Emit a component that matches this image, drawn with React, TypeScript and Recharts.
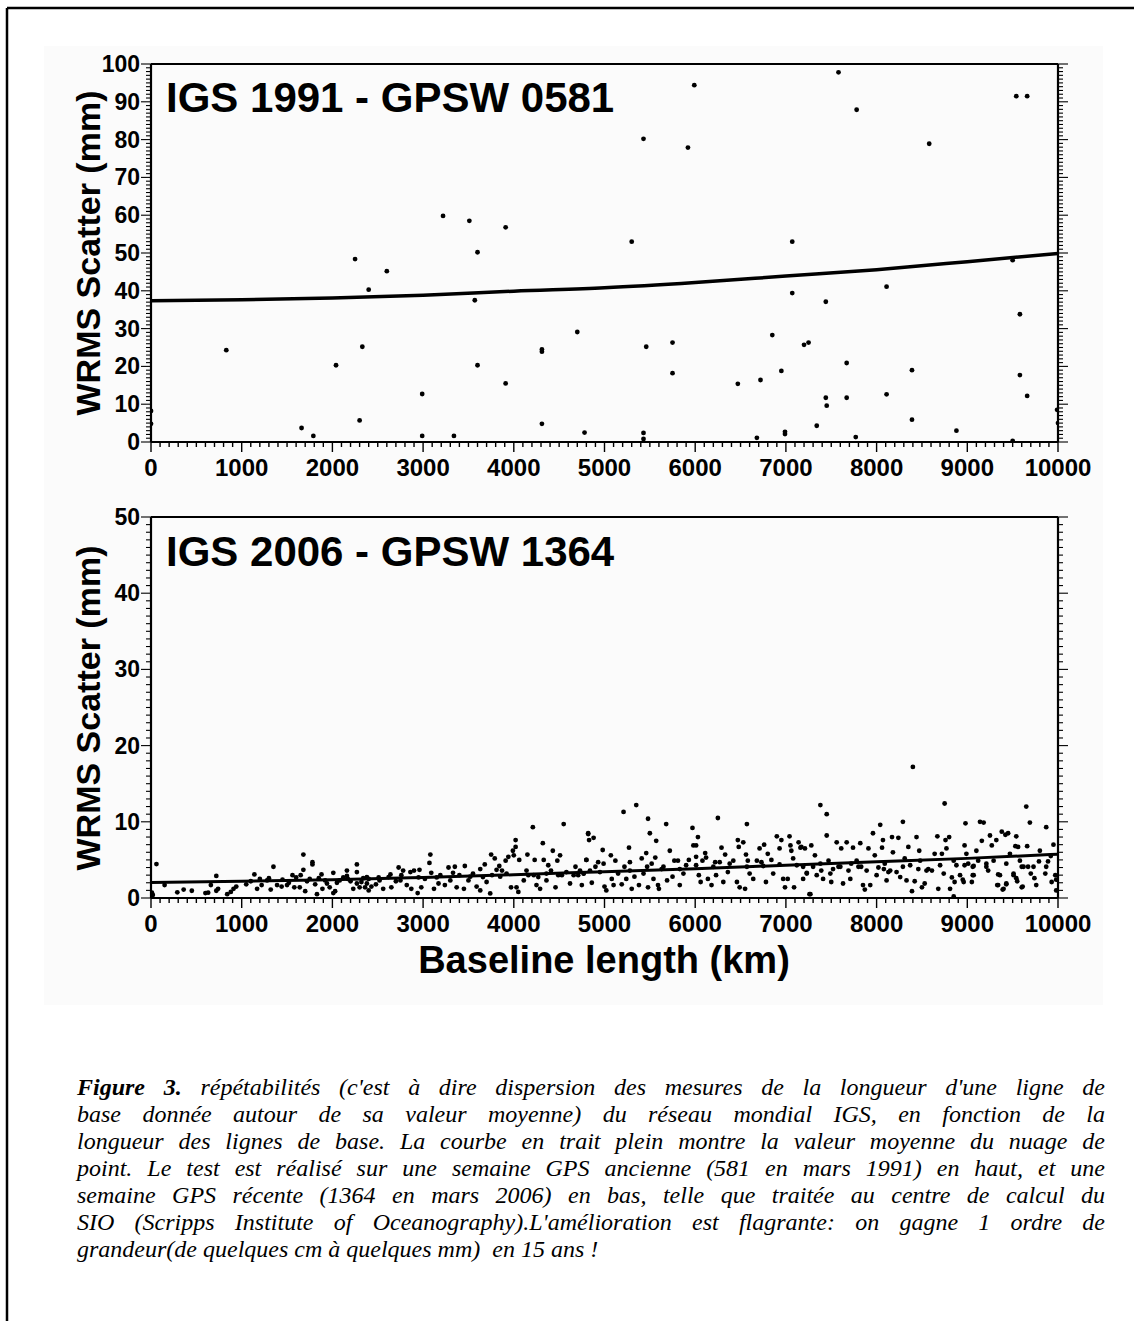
import React from 'react';
import { ScatterChart, Scatter, XAxis, YAxis } from 'recharts';

const SANS = '"Liberation Sans", Arial, Helvetica, sans-serif';
const SERIF = '"Liberation Serif", "Times New Roman", serif';

// ---------- tick labels ----------
const xMajorTicks = [0, 1000, 2000, 3000, 4000, 5000, 6000, 7000, 8000, 9000, 10000];
const topYMajorTicks = [0, 10, 20, 30, 40, 50, 60, 70, 80, 90, 100];
const bottomYMajorTicks = [0, 10, 20, 30, 40, 50];
const xMinorStep = 100;
const yMinorStep = 1;

// ---------- titles ----------
const topTitle = 'IGS 1991 - GPSW 0581';
const bottomTitle = 'IGS 2006 - GPSW 1364';
const yAxisTitle = 'WRMS Scatter (mm)';
const xAxisTitle = 'Baseline length (km)';

// ---------- data: IGS 1991 (baseline km, WRMS mm) ----------
const points1991: [number, number][] = [
  [0, 8.2], [0, 4.8], [830, 24.3], [1660, 3.7], [1790, 1.6], [2040, 20.3], [2250, 48.4], [2300, 5.7],
  [2330, 25.2], [2400, 40.3], [2600, 45.2], [2990, 12.7], [2990, 1.6], [3220, 59.8], [3340, 1.6],
  [3510, 58.5], [3570, 37.5], [3600, 50.2], [3600, 20.3], [3910, 56.8], [3910, 15.5], [4310, 24.5],
  [4310, 23.9], [4310, 4.8], [4700, 29.1], [4780, 2.5], [5300, 53.0], [5430, 80.2], [5430, 2.4],
  [5430, 0.8], [5460, 25.2], [5750, 26.3], [5750, 18.2], [5920, 77.9], [5990, 94.4], [6470, 15.4],
  [6680, 1.1], [6720, 16.4], [6850, 28.3], [6950, 18.8], [6990, 2.7], [6990, 2.1], [7070, 53.0],
  [7070, 39.4], [7200, 25.7], [7250, 26.3], [7340, 4.3], [7440, 37.1], [7440, 11.7], [7450, 9.6],
  [7580, 97.8], [7670, 20.9], [7670, 11.7], [7770, 1.3], [7780, 87.9], [8110, 41.1], [8110, 12.6],
  [8390, 19.0], [8390, 5.9], [8580, 78.9], [8880, 3.0], [9500, 48.1], [9500, 0.3], [9540, 91.5],
  [9580, 33.8], [9580, 17.7], [9660, 91.5], [9660, 12.2], [9990, 8.5], [10000, 5.0],
];
const fit1991: [number, number][] = [
  [0, 37.4], [1000, 37.6], [2000, 38.1], [3000, 38.8], [4000, 39.9], [5000, 40.8],
  [6000, 42.2], [7000, 43.9], [8000, 45.6], [9000, 47.7], [10000, 49.9],
];

// ---------- data: IGS 2006 (baseline km, WRMS mm) ----------
const points2006a: [number, number][] = [
  [20, 0.4], [10, 0.7], [60, 4.45], [150, 1.7], [290, 0.75], [360, 1.1], [450, 0.95], [600, 0.65],
  [630, 0.7], [660, 1.7], [720, 2.9], [720, 0.95], [740, 1.2], [840, 0.5], [880, 0.8], [910, 1.2],
  [940, 1.5], [1050, 1.8], [1140, 3.1], [1170, 1.2], [1200, 2.5], [1220, 1.7], [1280, 2.3], [1320, 1.1],
  [1350, 4.1], [1390, 1.7], [1440, 1.5], [1500, 1.7], [1560, 3.0], [1580, 1.4], [1640, 1.4], [1650, 3.0],
  [1680, 5.7], [1680, 3.7], [1700, 0.9], [1750, 2.5], [1780, 4.7], [1780, 4.4], [1810, 1.8], [1830, 0.5],
  [1880, 3.1], [1890, 1.2], [1940, 1.9], [1970, 1.4], [2010, 3.3], [2030, 0.9], [2010, 0.65], [2160, 2.9],
  [2160, 3.6], [2270, 4.4], [2270, 3.4], [2270, 1.9], [2230, 1.2], [2300, 1.4], [2380, 1.9], [2400, 1.0],
  [2080, 2.3], [2170, 2.5], [1100, 2.2], [1300, 2.6], [1450, 2.4], [1520, 2.0], [1600, 2.7], [1720, 2.2],
  [1850, 2.6], [1920, 2.3], [2050, 2.0], [2120, 2.7], [2200, 2.2], [2340, 2.6],
];
const points2006b: [number, number][] = [
  [2320, 2.1], [2360, 1.4], [2400, 2.5], [2430, 1.5], [2480, 1.8], [2520, 2.3], [2560, 1.2], [2620, 2.75],
  [2650, 1.4], [2700, 2.2], [2730, 4.0], [2760, 3.0], [2780, 3.6], [2820, 1.7], [2860, 3.4], [2870, 1.2],
  [2900, 3.6], [2940, 0.65], [2960, 3.7], [2980, 1.4], [3020, 2.5], [3070, 4.6], [3080, 5.7], [3090, 3.3],
  [3120, 1.2], [3170, 1.9], [3190, 3.0], [3240, 1.7], [3280, 4.0], [3300, 2.3], [3350, 4.1], [3370, 1.4],
  [3400, 3.0], [3450, 1.2], [3460, 4.2], [3500, 2.3], [3550, 3.2], [3590, 1.5], [3630, 3.8], [3630, 1.0],
  [3680, 4.4], [3700, 2.1], [3740, 0.6], [3750, 5.7], [3760, 3.0], [3790, 5.2], [3810, 3.7], [3840, 4.2],
  [3870, 3.6], [3910, 4.9], [3940, 5.4], [3970, 1.4], [3990, 6.2], [4000, 5.6], [4020, 7.6], [4020, 6.7],
  [4030, 1.4], [4050, 0.8], [4060, 5.0], [4110, 2.3], [4150, 5.7], [4160, 3.0], [4210, 9.3], [4220, 3.0],
  [4230, 5.0], [4250, 1.7], [4290, 1.2], [4320, 7.2], [4330, 5.0], [4360, 2.3], [4380, 4.3], [4410, 3.6],
  [4430, 6.2], [4460, 1.4], [4480, 4.9], [4510, 5.6], [4530, 3.0], [4550, 9.7], [4580, 3.4], [4620, 1.9],
  [4680, 4.1], [4710, 3.0], [4750, 1.7], [4800, 5.0], [4820, 8.4], [4840, 3.6],
  [2380, 2.75], [2510, 2.7], [2640, 3.1], [2750, 2.3], [2950, 2.7], [3150, 2.7], [3330, 3.3], [3520, 2.8],
  [3660, 2.75], [3850, 2.8], [3920, 3.2], [4140, 3.6], [4270, 2.75], [4360, 3.2], [4490, 3.0], [4660, 3.0],
  [4770, 3.2],
];
const points2006c: [number, number][] = [
  [4730, 3.6], [4770, 3.2], [4800, 5.0], [4820, 8.5], [4830, 7.6], [4880, 7.9], [4860, 2.0], [4900, 4.1],
  [4930, 4.7], [4980, 6.3], [4990, 4.5], [5000, 1.5], [5020, 1.0], [5070, 5.6], [5080, 2.5], [5100, 1.7],
  [5120, 4.9], [5150, 3.2], [5190, 1.8], [5210, 11.3], [5220, 4.1], [5240, 2.5], [5270, 6.6], [5280, 4.7],
  [5300, 1.2], [5330, 2.8], [5350, 12.2], [5380, 1.7], [5410, 5.2], [5430, 3.2], [5460, 5.9], [5480, 10.4],
  [5480, 1.4], [5500, 8.5], [5520, 4.5], [5540, 2.5], [5560, 5.3], [5570, 7.5], [5590, 1.7], [5600, 1.2],
  [5630, 3.8], [5680, 9.7], [5690, 2.3], [5720, 6.2], [5750, 2.8], [5770, 4.9], [5810, 4.9], [5830, 1.7],
  [5870, 3.2], [5900, 4.3], [5930, 5.0], [5970, 9.2], [5980, 6.9], [6010, 6.9], [6010, 5.4], [6030, 8.0],
  [6040, 3.0], [6060, 2.1], [6080, 4.9], [6110, 5.9], [6120, 5.3], [6140, 2.5], [6180, 1.7], [6220, 4.7],
  [6230, 3.0], [6250, 10.5], [6270, 4.7], [6290, 6.6], [6310, 2.1], [6330, 5.7], [6360, 3.4], [6420, 4.9],
  [6460, 2.1], [6470, 7.6], [6480, 6.7], [6490, 1.4], [6530, 7.3], [6550, 1.2], [6560, 5.7], [6570, 9.7],
  [6580, 4.9], [6600, 3.2], [6640, 2.5], [6680, 4.9], [6710, 6.5], [6730, 4.7], [6760, 7.0], [6780, 2.1],
  [6800, 5.8], [6840, 5.0], [6860, 3.2], [6900, 8.1], [6930, 6.5], [6950, 7.6], [6970, 2.5], [6990, 1.4],
  [7020, 2.5], [7040, 8.1], [7050, 6.9], [7060, 6.2], [7080, 5.2], [7090, 1.4], [7140, 7.3], [7160, 6.6],
  [7190, 2.5], [7230, 3.3], [7260, 0.5],
  [4950, 3.4], [5280, 3.6], [5470, 4.1], [5650, 4.1], [5830, 3.8], [6010, 4.3], [6200, 4.1], [6380, 4.5],
  [6570, 4.1], [6750, 4.2], [6930, 4.4], [7120, 4.3],
];
const points2006d: [number, number][] = [
  [7170, 6.7], [7210, 6.5], [7230, 3.2], [7270, 0.5], [7280, 6.9], [7300, 4.1], [7320, 5.6], [7340, 3.0],
  [7380, 12.2], [7390, 3.6], [7410, 2.5], [7450, 11.0], [7450, 8.2], [7470, 4.9], [7490, 3.2], [7500, 2.1],
  [7560, 7.3], [7580, 4.1], [7610, 6.5], [7630, 1.9], [7670, 7.3], [7690, 3.6], [7710, 2.5], [7740, 6.6],
  [7780, 4.9], [7820, 7.2], [7830, 4.1], [7850, 1.7], [7870, 1.1], [7910, 6.5], [7930, 1.7], [7960, 8.5],
  [7980, 5.6], [8000, 3.0], [8040, 9.6], [8060, 6.6], [8070, 7.6], [8090, 4.5], [8110, 2.3], [8130, 3.4],
  [8170, 8.0], [8180, 6.0], [8220, 3.4], [8240, 7.9], [8260, 2.75], [8290, 10.0], [8310, 5.2], [8330, 2.3],
  [8350, 6.7], [8390, 0.9], [8400, 17.2], [8420, 2.2], [8440, 8.0], [8460, 3.8], [8470, 6.2], [8500, 1.4],
  [8530, 1.9], [8570, 3.8], [8610, 3.6], [8640, 5.8], [8670, 8.1], [8680, 1.2], [8720, 5.8], [8740, 3.2],
  [8750, 12.4], [8760, 7.6], [8770, 6.5], [8800, 8.0], [8810, 1.2], [8830, 2.7], [8850, 0.2], [8860, 2.1],
  [8880, 4.3], [8920, 3.0], [8960, 2.1], [8970, 6.9], [8980, 9.8], [8990, 5.8], [9050, 2.1], [9060, 4.1],
  [9070, 3.0], [9100, 6.2], [9140, 10.0], [9160, 7.5], [9180, 9.9], [9210, 4.5], [9230, 3.6], [9250, 8.2],
  [9270, 6.9], [9320, 7.6], [9340, 1.7], [9360, 3.0], [9380, 8.7], [9400, 1.2], [9420, 8.3], [9430, 1.9],
  [9450, 8.5], [9470, 5.8], [9510, 3.0], [9530, 6.8], [9540, 8.1], [9550, 2.2], [9560, 6.7], [9600, 1.4],
  [9620, 4.1], [9650, 12.0], [9660, 6.8], [9690, 9.9], [9700, 3.2], [9730, 4.1],
  [7190, 4.1], [7380, 4.5], [7520, 3.8], [7600, 4.1], [7720, 4.5], [7800, 4.1], [7890, 3.6], [8020, 4.0],
  [8080, 3.8], [8150, 3.6], [8290, 4.1], [8370, 4.3], [8480, 4.9], [8550, 3.6], [8700, 4.3], [8850, 4.9],
  [9010, 4.5], [9120, 4.9], [9290, 4.9], [9430, 4.5], [9580, 4.9],
];
const points2006e: [number, number][] = [
  [8970, 4.3], [9070, 4.2], [9060, 3.0], [8950, 2.4], [9330, 1.7], [9390, 1.1], [9340, 3.1], [9210, 4.1],
  [9430, 1.8], [9510, 3.2], [9540, 2.6], [9600, 4.1], [9610, 1.5], [9670, 4.1], [9740, 2.6], [9760, 1.7],
  [9790, 4.8], [9860, 3.2], [9870, 4.1], [9890, 4.8], [9930, 2.1], [9970, 3.0], [9980, 1.0], [9980, 2.4],
  [9870, 9.3], [9950, 7.0], [9800, 6.2], [9920, 5.5],
];
const fit2006: [number, number][] = [
  [0, 2.05], [1000, 2.2], [2000, 2.4], [3000, 2.7], [4000, 3.05], [5000, 3.45],
  [6000, 3.85], [7000, 4.3], [8000, 4.75], [9000, 5.2], [10000, 5.75],
];

// ---------- caption ----------
const captionLead = 'Figure 3.';
const captionLines = [
  " répétabilités (c'est à dire dispersion des mesures de la longueur d'une ligne de",
  'base donnée autour de sa valeur moyenne) du réseau mondial IGS, en fonction de la',
  'longueur des lignes de base. La courbe en trait plein montre la valeur moyenne du nuage de',
  'point. Le test est réalisé sur une semaine GPS ancienne (581 en mars 1991) en haut, et une',
  'semaine GPS récente (1364 en mars 2006) en bas, telle que traitée au centre de calcul du',
  "SIO (Scripps Institute of Oceanography).L'amélioration est flagrante: on gagne 1 ordre de",
  'grandeur(de quelques cm à quelques mm)  en 15 ans !',
];

// ---------- helpers ----------
const toXY = (pts: [number, number][]) => pts.map(([x, y]) => ({ x, y }));
const tickList = (max: number, step: number) => {
  const out: number[] = [];
  for (let v = 0; v <= max + 1e-9; v += step) out.push(Math.round(v * 1000) / 1000);
  return out;
};
const xTicks = tickList(10000, xMinorStep);
const topYTicks = tickList(100, yMinorStep);
const bottomYTicks = tickList(50, yMinorStep);

const Dot = (props: any) => {
  const { cx, cy } = props;
  if (cx == null || cy == null) return <g />;
  return <circle cx={cx} cy={cy} r={2.4} fill="#000" />;
};
const NoShape = () => <g />;

const makeXTick = (majors: number[]) => (props: any) => {
  const { x, y, payload } = props;
  const v = payload.value;
  const major = majors.includes(v);
  return (
    <g>
      <line x1={x} x2={x} y1={y} y2={y + (major ? 10 : 5)} stroke="#000" strokeWidth={1.4} />
      {major && (
        <text x={x} y={y + 34} textAnchor="middle" fontFamily={SANS} fontWeight="bold" fontSize={24} fill="#000">
          {v}
        </text>
      )}
    </g>
  );
};
const makeLeftTick = (majors: number[]) => (props: any) => {
  const { x, y, payload } = props;
  const v = payload.value;
  const major = majors.includes(v);
  return (
    <g>
      <line x1={x - (major ? 10 : 5)} x2={x} y1={y} y2={y} stroke="#000" strokeWidth={1.1} />
      {major && (
        <text x={x - 11} y={y + 8} textAnchor="end" fontFamily={SANS} fontWeight="bold" fontSize={23} fill="#000">
          {v}
        </text>
      )}
    </g>
  );
};
const makeRightTick = (majors: number[]) => (props: any) => {
  const { x, y, payload } = props;
  const major = majors.includes(payload.value);
  return <line x1={x} x2={x + (major ? 10 : 5)} y1={y} y2={y} stroke="#000" strokeWidth={1.1} />;
};

const axisLine = { stroke: '#000', strokeWidth: 2.2 };

type PanelProps = {
  top: number;
  height: number;
  marginTop: number;
  xAxisHeight: number;
  yMax: number;
  yTicks: number[];
  yMajors: number[];
  points: { x: number; y: number }[];
  fit: { x: number; y: number }[];
  fitWidth: number;
};

const Panel = (p: PanelProps) => (
  <div style={{ position: 'absolute', left: 0, top: p.top }}>
    <ScatterChart width={1134} height={p.height} margin={{ top: p.marginTop, right: 0, bottom: 0, left: 0 }}>
      <XAxis
        type="number"
        dataKey="x"
        domain={[0, 10000]}
        ticks={xTicks}
        interval={0}
        tickSize={0}
        tickMargin={0}
        tickLine={false}
        axisLine={axisLine}
        tick={makeXTick(xMajorTicks)}
        height={p.xAxisHeight}
        allowDataOverflow
      />
      <XAxis
        xAxisId="top"
        orientation="top"
        type="number"
        dataKey="x"
        domain={[0, 10000]}
        height={1}
        tick={false}
        tickLine={false}
        axisLine={axisLine}
        allowDataOverflow
      />
      <YAxis
        type="number"
        dataKey="y"
        domain={[0, p.yMax]}
        ticks={p.yTicks}
        interval={0}
        tickSize={0}
        tickMargin={0}
        tickLine={false}
        axisLine={axisLine}
        tick={makeLeftTick(p.yMajors)}
        width={151}
        allowDataOverflow
      />
      <YAxis
        yAxisId="right"
        orientation="right"
        type="number"
        dataKey="y"
        domain={[0, p.yMax]}
        ticks={p.yTicks}
        interval={0}
        tickSize={0}
        tickMargin={0}
        tickLine={false}
        axisLine={axisLine}
        tick={makeRightTick(p.yMajors)}
        width={76}
        allowDataOverflow
      />
      <Scatter data={p.points} shape={Dot} isAnimationActive={false} />
      <Scatter
        data={p.fit}
        shape={NoShape}
        line={{ stroke: '#000', strokeWidth: p.fitWidth }}
        lineJointType="monotoneX"
        isAnimationActive={false}
      />
      <Scatter
        data={p.fit}
        xAxisId="top"
        yAxisId="right"
        shape={NoShape}
        legendType="none"
        isAnimationActive={false}
      />
    </ScatterChart>
  </div>
);

export default function App() {
  const pts2006 = toXY([...points2006a, ...points2006b, ...points2006c, ...points2006d, ...points2006e]);
  return (
    <div style={{ position: 'absolute', left: 0, top: 0, width: 1134, height: 1321, background: '#fff', overflow: 'hidden' }}>
      <svg width={1134} height={1321} style={{ position: 'absolute', left: 0, top: 0 }}>
        <rect x={44} y={46} width={1059} height={959} fill="#fbfbfb" />
        <line x1={7} y1={8} x2={1134} y2={8} stroke="#000" strokeWidth={2.5} />
        <line x1={7} y1={8} x2={7} y2={1321} stroke="#000" strokeWidth={2.5} />
      </svg>

      <Panel
        top={0}
        height={500}
        marginTop={63}
        xAxisHeight={58}
        yMax={100}
        yTicks={topYTicks}
        yMajors={topYMajorTicks}
        points={toXY(points1991)}
        fit={toXY(fit1991)}
        fitWidth={3.5}
      />
      <Panel
        top={500}
        height={500}
        marginTop={16}
        xAxisHeight={102}
        yMax={50}
        yTicks={bottomYTicks}
        yMajors={bottomYMajorTicks}
        points={pts2006}
        fit={toXY(fit2006)}
        fitWidth={3}
      />

      <svg width={1134} height={1321} style={{ position: 'absolute', left: 0, top: 0, pointerEvents: 'none' }}>
        <text x={166} y={112} fontFamily={SANS} fontWeight="bold" fontSize={42} fill="#000">{topTitle}</text>
        <text x={166} y={566} fontFamily={SANS} fontWeight="bold" fontSize={42} fill="#000">{bottomTitle}</text>
        <text x={100} y={253} transform="rotate(-90 100 253)" textAnchor="middle" fontFamily={SANS} fontWeight="bold" fontSize={34} fill="#000">{yAxisTitle}</text>
        <text x={100} y={708} transform="rotate(-90 100 708)" textAnchor="middle" fontFamily={SANS} fontWeight="bold" fontSize={34} fill="#000">{yAxisTitle}</text>
        <text x={604} y={973} textAnchor="middle" fontFamily={SANS} fontWeight="bold" fontSize={38} fill="#000">{xAxisTitle}</text>
      </svg>

      <div
        style={{
          position: 'absolute',
          left: 77,
          top: 1074,
          width: 1028,
          fontFamily: SERIF,
          fontStyle: 'italic',
          fontSize: 24,
          lineHeight: '27px',
          color: '#000',
        }}
      >
        {captionLines.map((line, i) => (
          <div
            key={i}
            style={{
              textAlign: 'justify',
              textAlignLast: i < captionLines.length - 1 ? 'justify' : 'left',
              whiteSpace: i < captionLines.length - 1 ? 'normal' : 'pre',
            }}
          >
            {i === 0 && <b>{captionLead}</b>}
            {line}
          </div>
        ))}
      </div>
    </div>
  );
}
